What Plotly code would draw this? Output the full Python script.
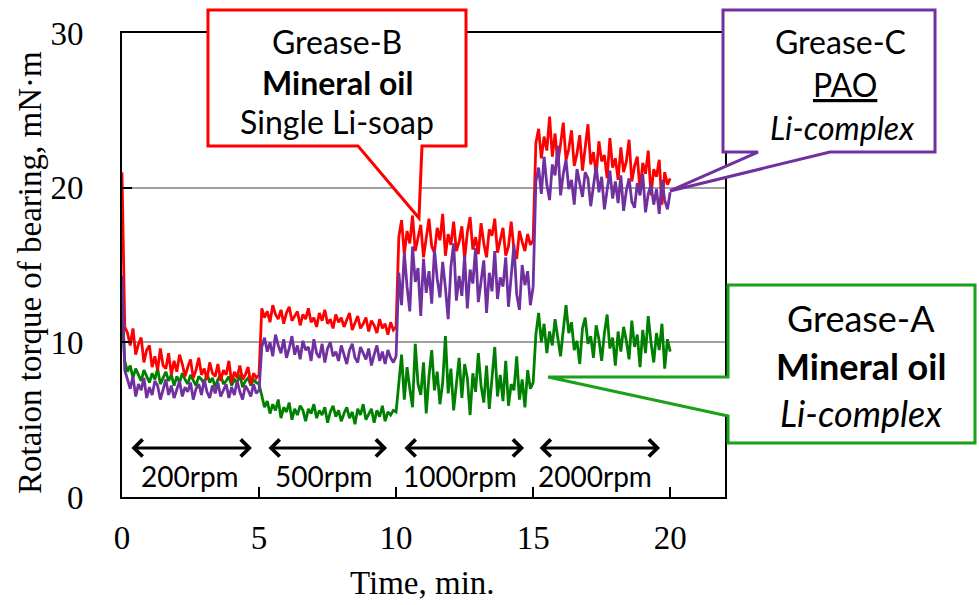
import numpy as np
import plotly.graph_objects as go

# Sampling grid: one reading every 0.1 min over the 20-minute test
time_min = np.round(np.arange(0, 20.01, 0.1), 2)

# Grease-B (mineral oil, single Li-soap) torque, mN·m
grease_b = [
    21.0, 11.0, 10.6, 9.8, 10.9, 9.2, 9.9, 10.3, 8.7, 9.5,
    9.8, 8.4, 9.1, 8.2, 9.6, 8.5, 8.3, 9.3, 7.9, 8.8,
    8.1, 9.2, 8.6, 7.8, 8.4, 8.9, 7.7, 8.2, 9.0, 7.9,
    8.3, 7.6, 8.7, 8.0, 7.8, 8.6, 7.5, 8.2, 7.9, 8.8,
    7.4, 8.1, 7.7, 8.5, 7.6, 7.9, 8.4, 7.3, 8.0, 7.7,
    7.9, 12.2, 11.6, 12.0, 11.3, 12.4, 11.8, 11.5, 12.1, 11.2,
    11.9, 12.3, 11.4, 11.7, 12.0, 11.1, 11.8, 11.5, 12.2, 11.3,
    11.6, 11.0, 11.9, 11.4, 12.1, 11.2, 11.5, 10.9, 11.8, 11.3,
    11.6, 11.0, 11.4, 11.9, 10.8, 11.3, 11.7, 10.9, 11.2, 11.6,
    10.7, 11.4, 11.1, 10.6, 11.5, 10.9, 11.2, 10.5, 11.3, 10.8,
    11.0, 16.8, 17.9, 15.7, 17.2, 16.4, 18.2, 15.9, 16.7, 17.6,
    15.5, 16.9, 18.0, 16.2, 15.8, 17.4, 16.6, 18.3, 15.6, 17.0,
    16.3, 17.8, 15.9, 16.5, 17.5, 15.4, 17.1, 18.1, 16.0, 16.8,
    15.7, 17.7, 16.4, 15.5, 17.3, 16.9, 18.0, 15.8, 16.6, 17.4,
    15.6, 16.2, 17.8, 16.0, 15.4, 17.2, 16.5, 15.9, 17.0, 16.3,
    16.6, 22.9, 23.8, 21.9, 23.3, 22.4, 24.6, 22.0, 23.5, 21.6,
    22.8, 24.2, 21.8, 22.5, 23.7, 21.4, 22.2, 23.4, 21.1, 22.7,
    24.1, 21.5, 22.3, 20.8, 23.0, 21.7, 22.1, 20.6, 23.2, 21.3,
    21.9, 20.5, 22.6, 21.0, 21.7, 23.1, 20.4, 21.4, 22.0, 19.8,
    21.6, 20.9, 22.4, 19.5, 21.2, 20.7, 21.8, 18.9, 21.0, 20.2,
    20.6,
]

# Grease-C (PAO, Li-complex) torque, mN·m
grease_c = [
    14.3, 8.2, 7.6, 7.0, 7.8, 6.5, 7.3, 6.9, 7.7, 6.4,
    7.1, 6.6, 7.5, 7.2, 6.3, 7.0, 7.6, 6.6, 7.2, 6.4,
    6.9, 7.5, 6.5, 7.1, 6.8, 7.4, 6.3, 7.0, 7.3, 6.6,
    7.6, 6.8, 6.4, 7.2, 6.7, 7.4, 6.5, 6.9, 7.3, 6.4,
    7.1, 6.6, 7.5, 6.8, 6.3, 7.2, 6.9, 6.5, 7.3, 6.7,
    6.9, 9.7, 10.3, 9.4, 10.0, 9.1, 10.5, 9.8, 9.3, 10.2,
    9.0, 9.6, 10.4, 9.2, 9.8, 8.9, 10.1, 9.5, 9.7, 8.8,
    10.2, 9.3, 9.0, 9.9, 8.7, 9.6, 10.0, 9.1, 9.4, 8.8,
    9.8, 9.2, 8.6, 9.5, 9.9, 9.0, 8.7, 9.7, 9.3, 8.9,
    9.6, 8.5, 9.2, 9.8, 8.8, 9.4, 8.6, 9.5, 9.0, 8.7,
    9.1, 14.5, 12.4, 15.8, 13.6, 12.0, 16.2, 13.9, 14.8, 11.7,
    15.4, 13.2, 14.6, 12.5, 16.0, 14.1, 12.9, 15.2, 13.5, 11.5,
    14.9, 16.4, 12.7, 14.3, 13.0, 15.6, 12.2, 14.7, 13.8, 16.1,
    12.6, 14.0, 15.3, 11.9, 14.5, 13.3, 15.9, 12.8, 14.2, 13.6,
    15.5, 12.3, 14.4, 16.3, 13.1, 12.1, 15.0, 13.7, 14.6, 12.4,
    13.6, 20.4, 21.3, 19.6, 22.0, 20.2, 19.2, 21.5, 20.8, 22.7,
    19.5, 20.9, 21.8, 19.9, 20.5, 18.9, 21.2, 20.3, 19.4, 21.0,
    20.6, 18.8, 20.1, 21.4, 19.7, 20.7, 18.6, 20.0, 21.1, 19.3,
    20.4, 19.0, 20.8, 18.5, 19.8, 20.6, 19.1, 18.7, 20.3, 19.5,
    20.9, 18.4, 19.6, 20.2, 18.9, 19.9, 18.3, 20.5, 19.2, 18.6,
    19.7,
]

# Grease-A (mineral oil, Li-complex) torque, mN·m
grease_a = [
    12.0, 8.8, 8.1, 8.5, 7.7, 8.3, 7.9, 7.5, 8.2, 7.8,
    7.4, 8.0, 7.6, 8.3, 7.3, 7.7, 8.1, 7.5, 7.9, 7.2,
    7.8, 7.4, 8.0, 7.6, 7.3, 7.9, 7.5, 7.2, 7.8, 7.6,
    7.3, 8.0, 7.4, 7.7, 7.1, 7.6, 7.9, 7.3, 7.5, 7.8,
    7.2, 7.6, 7.4, 7.9, 7.1, 7.5, 7.7, 7.2, 7.6, 7.4,
    7.3, 6.5, 5.8, 6.2, 5.4, 6.0, 5.6, 6.3, 5.1, 5.8,
    5.5, 6.1, 5.0, 5.7, 5.3, 5.9, 5.6, 4.9, 5.7, 5.4,
    6.0, 5.1, 5.6, 5.3, 5.8, 4.8, 5.5, 5.9, 5.2, 5.6,
    4.9, 5.4, 5.8, 5.1, 5.5, 4.7, 5.7, 5.3, 6.0, 5.0,
    5.4, 5.7, 4.8, 5.6, 5.2, 5.9, 4.9, 5.5, 5.3, 5.6,
    5.5, 7.6, 9.2, 6.3, 8.4, 7.0, 5.8, 9.9, 7.3, 6.6,
    8.7, 5.4, 7.8, 9.5, 6.9, 8.1, 6.0, 7.4, 10.4, 6.7,
    8.3, 5.6, 7.1, 9.0, 6.4, 8.6, 7.7, 5.3, 8.0, 6.8,
    9.3, 7.2, 6.1, 8.5, 5.7, 7.5, 9.7, 6.5, 7.9, 6.2,
    8.8, 5.9, 7.3, 6.9, 9.1, 6.3, 7.6, 5.8, 8.2, 7.0,
    7.4, 10.5, 11.9, 10.0, 11.2, 9.3, 10.7, 9.8, 11.5, 10.3,
    9.1, 10.8, 12.4, 10.6, 11.3, 9.5, 10.1, 8.6, 10.9, 11.6,
    9.9, 10.4, 9.0, 11.1, 10.2, 8.8, 10.6, 11.8, 9.6, 10.3,
    8.5, 10.7, 9.4, 11.0, 10.1, 8.9, 11.4, 9.7, 10.5, 8.4,
    10.8, 9.3, 11.7, 10.0, 8.7, 10.6, 9.5, 11.2, 8.3, 10.2,
    9.4,
]

# Speed stages: label, start and end of the span arrow (min)
speed_labels = ["200rpm", "500rpm", "1000rpm", "2000rpm"]
span_start = [0.29, 5.29, 10.25, 15.18]
span_end = [4.74, 9.67, 14.67, 19.63]
label_center = [2.48, 7.37, 12.33, 17.26]

x_ticks = [0, 5, 10, 15, 20]
y_ticks = [0, 10, 20, 30]

W, H = 979, 605
L, R, T, B = 122, 254, 33, 108
PW, PH = W - L - R, H - T - B


def to_paper(px, py):
    return (px - L) / PW, (H - B - py) / PH


def callout_path(points):
    parts = []
    for i, (px, py) in enumerate(points):
        x, y = to_paper(px, py)
        parts.append(("M" if i == 0 else "L") + f"{x:.4f},{y:.4f}")
    return " ".join(parts) + " Z"


RED, PURPLE, GREEN = "#FF0000", "#7030A0", "#008000"
BOX_GREEN = "#1AA01A"
SERIF = "Liberation Serif"
SANS = "Lato"

fig = go.Figure()
for vals, color, name in [(grease_a, GREEN, "Grease-A"),
                          (grease_b, RED, "Grease-B"),
                          (grease_c, PURPLE, "Grease-C")]:
    fig.add_trace(go.Scatter(x=time_min, y=vals, mode="lines", name=name,
                             line=dict(color=color, width=2.8),
                             showlegend=False))

shapes = [
    dict(type="path", xref="paper", yref="paper", layer="above",
         path=callout_path([(208, 10), (466, 10), (466, 146), (422, 146),
                            (419, 218), (358, 146), (208, 146)]),
         line=dict(color=RED, width=3), fillcolor="white"),
    dict(type="path", xref="paper", yref="paper", layer="above",
         path=callout_path([(723, 10), (935, 10), (935, 152), (830, 152),
                            (670, 191), (758, 152), (723, 152)]),
         line=dict(color=PURPLE, width=3), fillcolor="white"),
    dict(type="path", xref="paper", yref="paper", layer="above",
         path=callout_path([(728, 285), (975, 285), (975, 443), (728, 443),
                            (728, 416), (548, 377), (728, 377)]),
         line=dict(color=BOX_GREEN, width=3), fillcolor="white"),
]

annotations = []


def add_text(text, px, py, size, family=SANS, angle=0):
    x, y = to_paper(px, py)
    annotations.append(dict(text=text, x=x, y=y, xref="paper", yref="paper",
                            showarrow=False, xanchor="center", yanchor="middle",
                            textangle=angle,
                            font=dict(family=family, size=size, color="black")))


add_text("Grease-B", 337, 42, 32)
add_text("<b>Mineral oil</b>", 337, 83, 32)
add_text("Single Li-soap", 337, 122, 32)

add_text("Grease-C", 840, 42, 32)
add_text('<span style="text-decoration:underline">PAO</span>', 845, 85, 32)
add_text("<i>Li-complex</i>", 842, 127, 32)

add_text("Grease-A", 861, 318, 36)
add_text("<b>Mineral oil</b>", 861, 366, 36)
add_text("<i>Li-complex</i>", 861, 413, 36)

add_text("Time, min.", 422, 583, 33, SERIF)
add_text("Rotaion torque of bearing, mN·m", 30, 273, 33, SERIF, angle=-90)

for lab, a, b, c in zip(speed_labels, span_start, span_end, label_center):
    annotations.append(dict(x=b, y=3.17, ax=a, ay=3.17, xref="x", yref="y",
                            axref="x", ayref="y", text="", showarrow=True,
                            arrowhead=4, startarrowhead=4, arrowside="end+start",
                            arrowsize=1.1, startarrowsize=1.1, arrowwidth=3,
                            arrowcolor="black", standoff=0, startstandoff=0))
    annotations.append(dict(x=c, y=1.36, xref="x", yref="y", text=lab,
                            showarrow=False, xanchor="center", yanchor="middle",
                            font=dict(family=SANS, size=28, color="black")))

fig.update_layout(
    width=W, height=H,
    margin=dict(l=L, r=R, t=T, b=B, pad=0),
    paper_bgcolor="white", plot_bgcolor="white",
    shapes=shapes, annotations=annotations,
    xaxis=dict(range=[0, 22], tickvals=x_ticks, ticks="inside", ticklen=10,
               tickwidth=2, tickcolor="black", showline=True, linecolor="black",
               linewidth=2, mirror=True, showgrid=False, zeroline=False,
               ticklabelstandoff=10,
               tickfont=dict(family=SERIF, size=33, color="black")),
    yaxis=dict(range=[0, 30], tickvals=y_ticks, ticks="inside", ticklen=10,
               tickwidth=2, tickcolor="black", showline=True, linecolor="black",
               linewidth=2, mirror=True, showgrid=True, gridcolor="#A0A0A0",
               gridwidth=1.5, zeroline=False, ticklabelstandoff=30,
               tickfont=dict(family=SERIF, size=33, color="black")),
)

fig.write_html("out.html")
